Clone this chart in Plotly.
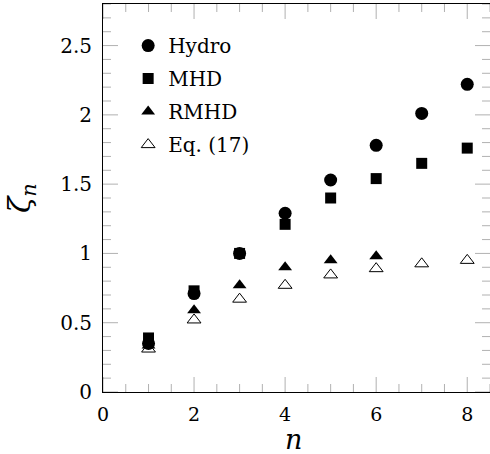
import plotly.graph_objects as go

n_vals = [1, 2, 3, 4, 5, 6, 7, 8]
hydro = [0.35, 0.71, 1.00, 1.29, 1.53, 1.78, 2.01, 2.22]
mhd = [0.39, 0.73, 1.00, 1.21, 1.40, 1.54, 1.65, 1.76]
rmhd_n = [1, 2, 3, 4, 5, 6]
rmhd = [0.335, 0.59, 0.77, 0.90, 0.95, 0.98]
eq17 = [0.31, 0.52, 0.67, 0.77, 0.845, 0.89, 0.925, 0.95]

x_major = [0, 2, 4, 6, 8]
y_major = [0, 0.5, 1, 1.5, 2, 2.5]
X_RANGE = [0, 8.5]
Y_RANGE = [0, 2.8]
X_MINOR_STEP = 0.5
Y_MINOR_STEP = 0.1

FONT = "DejaVu Serif"

fig = go.Figure()
fig.add_trace(go.Scatter(x=n_vals, y=hydro, mode="markers", name="Hydro",
                         legendgroup="a",
                         marker=dict(symbol="circle", size=13, color="black")))
fig.add_trace(go.Scatter(x=n_vals, y=mhd, mode="markers", name="MHD",
                         legendgroup="b",
                         marker=dict(symbol="square", size=11, color="black")))
fig.add_trace(go.Scatter(x=rmhd_n, y=rmhd, mode="markers", name="RMHD",
                         legendgroup="c",
                         marker=dict(symbol="triangle-up", size=12, color="black")))
fig.add_trace(go.Scatter(x=n_vals, y=eq17, mode="markers", name="Eq. (17)",
                         legendgroup="d",
                         marker=dict(symbol="triangle-up-open", size=12, color="black",
                                     line=dict(width=1, color="black"))))

# tick marks drawn on all four sides (inside), as pixel-sized shapes
def steps(lo, hi, step):
    k = 0
    out = []
    while lo + k * step <= hi + 1e-9:
        out.append(round(lo + k * step, 6))
        k += 1
    return out

tick_line = dict(color="black", width=1)
for v in steps(X_RANGE[0], X_RANGE[1], X_MINOR_STEP):
    L = 15 if any(abs(v - m) < 1e-9 for m in x_major) else 8
    for anchor, sign in ((0, 1), (1, -1)):
        fig.add_shape(type="line", xref="x", yref="paper", ysizemode="pixel",
                      yanchor=anchor, x0=v, x1=v, y0=0, y1=sign * L, line=tick_line)
for v in steps(Y_RANGE[0], Y_RANGE[1], Y_MINOR_STEP):
    L = 15 if any(abs(v - m) < 1e-9 for m in y_major) else 8
    for anchor, sign in ((0, 1), (1, -1)):
        fig.add_shape(type="line", xref="paper", yref="y", xsizemode="pixel",
                      xanchor=anchor, x0=0, x1=sign * L, y0=v, y1=v, line=tick_line)

fig.update_xaxes(
    range=X_RANGE, tickmode="array", tickvals=x_major, ticktext=[str(v) for v in x_major],
    showgrid=False, zeroline=False, showline=True, linecolor="black", linewidth=1,
    mirror=True, ticks="", ticklabelstandoff=5,
    tickfont=dict(family=FONT, size=19, color="black"), automargin=False,
)
fig.update_yaxes(
    range=Y_RANGE, tickmode="array", tickvals=y_major, ticktext=[f"{v:g}" for v in y_major],
    showgrid=False, zeroline=False, showline=True, linecolor="black", linewidth=1,
    mirror=True, ticks="", ticklabelstandoff=6,
    tickfont=dict(family=FONT, size=20, color="black"), automargin=False,
)

fig.add_annotation(text="<i>n</i>", xref="paper", yref="paper", x=0.491, y=-0.1215,
                   xanchor="center", yanchor="middle", showarrow=False,
                   font=dict(family=FONT, size=27, color="black"))
fig.add_annotation(text="<i>ζ</i><sub><i>n</i></sub>", xref="paper", yref="paper",
                   x=-0.212, y=0.5, xanchor="center", yanchor="middle", showarrow=False,
                   textangle=-90, font=dict(family=FONT, size=30, color="black"))

fig.update_layout(
    template="simple_white",
    width=490, height=454,
    margin=dict(l=103, r=0, t=4, b=62),
    plot_bgcolor="white", paper_bgcolor="white",
    font=dict(family=FONT, color="black"),
    showlegend=True,
    legend=dict(x=0.065, y=0.943, xanchor="left", yanchor="top",
                bgcolor="rgba(0,0,0,0)", borderwidth=0,
                font=dict(family=FONT, size=20, color="black"),
                traceorder="grouped", tracegroupgap=4),
)

fig.write_html("out.html", post_script="document.body.style.margin='0';",
               config={"displayModeBar": False})
